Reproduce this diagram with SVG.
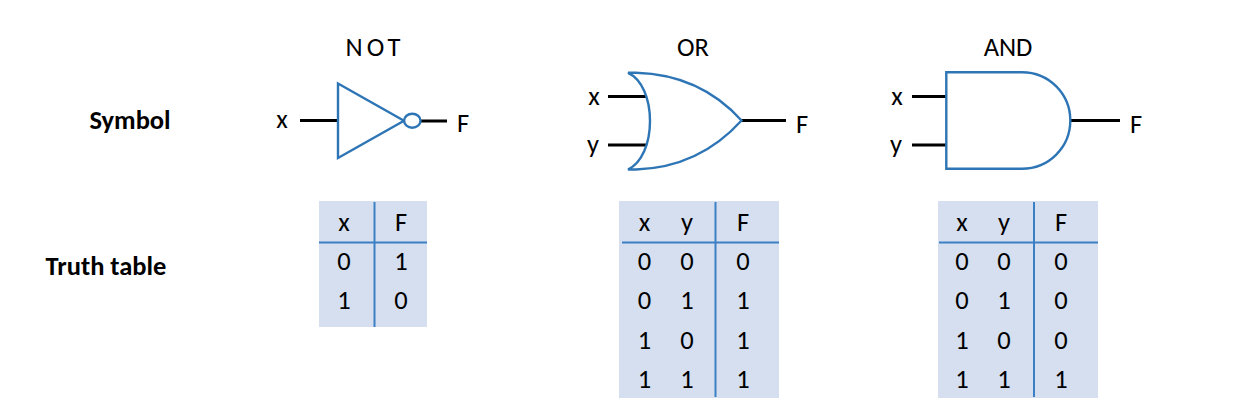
<svg xmlns="http://www.w3.org/2000/svg" width="1234" height="420" viewBox="0 0 1234 420">
<style>
text{font-family:Carlito,Lato,"Open Sans",sans-serif;font-size:26.5px;fill:#000;text-anchor:middle}
.b{font-weight:700}
.g{fill:#fff;stroke:#2e75b6;stroke-width:2.4}
.w{fill:none;stroke:#000;stroke-width:3}
.bg{fill:#d6dff0}
.r{stroke:#3b7fc4;stroke-width:2;fill:none}
</style>
<rect width="1234" height="420" fill="#fff"/>
<text class="b" x="130" y="128.5">Symbol</text>
<text class="b" x="106" y="275">Truth table</text>
<g id="connectors">
<path class="w" d="M300 120.5H338M420 121H447"/>
<path class="w" d="M608 96.5H649M608 145H649M741 120.5H786"/>
<path class="w" d="M912 96.5H947M912 145H947M1070 120.5H1120"/>
</g>
<g id="not-gate">
<text x="373" y="56" textLength="55" lengthAdjust="spacing">NOT</text>
<text x="282" y="128">x</text>
<text x="463" y="131.5">F</text>
<path class="g" d="M338 83.5L404 120.7L338 158Z"/>
<ellipse class="g" cx="412.3" cy="120.7" rx="8.2" ry="7"/>
</g>
<g id="or-gate">
<text x="693" y="56">OR</text>
<text x="594" y="104.5">x</text>
<text x="593" y="152.5">y</text>
<text x="802" y="132.5">F</text>
<path class="g" d="M628 72.8H636C680 74 714 90 741.5 120.5C714 151 680 168 636 169.5H628C642 163 650 143 650 121C650 99 642 79 628 72.8Z"/>
</g>
<g id="and-gate">
<text x="1008" y="56">AND</text>
<text x="897" y="104.5">x</text>
<text x="896" y="152.5">y</text>
<text x="1136" y="132.5">F</text>
<path class="g" d="M946.3 72.3H1022C1049 72.3 1070.3 94 1070.3 120.5C1070.3 147 1049 168.7 1022 168.7H946.3Z"/>
</g>
<g id="not-table">
<rect class="bg" x="319" y="201" width="108" height="126"/>
<path class="r" d="M374.5 202V327M319 242.5H427"/>
<text x="344" y="231">x</text><text x="401" y="231">F</text>
<text x="344" y="270">0</text><text x="401" y="270">1</text>
<text x="344" y="309">1</text><text x="401" y="309">0</text>
</g>
<g id="or-table">
<rect class="bg" x="619" y="201" width="160" height="197"/>
<path class="r" d="M715.5 202V397M622 242.5H779"/>
<text x="644.5" y="231">x</text><text x="687" y="231">y</text><text x="743" y="231">F</text>
<text x="644.5" y="270">0</text><text x="687" y="270">0</text><text x="743" y="270">0</text>
<text x="644.5" y="309">0</text><text x="687" y="309">1</text><text x="743" y="309">1</text>
<text x="644.5" y="349">1</text><text x="687" y="349">0</text><text x="743" y="349">1</text>
<text x="644.5" y="388">1</text><text x="687" y="388">1</text><text x="743" y="388">1</text>
</g>
<g id="and-table">
<rect class="bg" x="938" y="201" width="160" height="197"/>
<path class="r" d="M1034 202V397M939 242.5H1098"/>
<text x="962" y="231">x</text><text x="1004" y="231">y</text><text x="1061" y="231">F</text>
<text x="962" y="270">0</text><text x="1004" y="270">0</text><text x="1061" y="270">0</text>
<text x="962" y="309">0</text><text x="1004" y="309">1</text><text x="1061" y="309">0</text>
<text x="962" y="349">1</text><text x="1004" y="349">0</text><text x="1061" y="349">0</text>
<text x="962" y="388">1</text><text x="1004" y="388">1</text><text x="1061" y="388">1</text>
</g>
</svg>
